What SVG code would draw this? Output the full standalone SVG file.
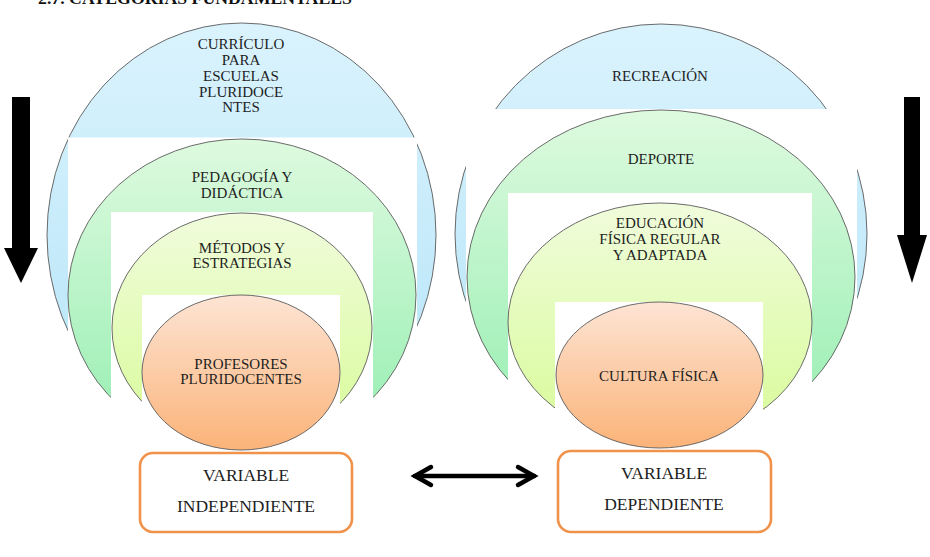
<svg xmlns="http://www.w3.org/2000/svg" width="930" height="557" viewBox="0 0 930 557">
<defs>
<linearGradient id="gBlue" x1="0" y1="0" x2="0" y2="1"><stop offset="0" stop-color="#daf3fd"/><stop offset="1" stop-color="#b4e4f8"/></linearGradient>
<linearGradient id="gGreen" x1="0" y1="0" x2="0" y2="1"><stop offset="0" stop-color="#defadf"/><stop offset="1" stop-color="#94eeb0"/></linearGradient>
<linearGradient id="gYellow" x1="0" y1="0" x2="0" y2="1"><stop offset="0" stop-color="#f0fcdc"/><stop offset="1" stop-color="#d8fb98"/></linearGradient>
<linearGradient id="gOrange" x1="0" y1="0" x2="0" y2="1"><stop offset="0" stop-color="#fde4d4"/><stop offset="1" stop-color="#fbb378"/></linearGradient>
<style>
.e{stroke:#5a5a5a;stroke-width:0.9}
.w{fill:#ffffff}
.t{font-family:"Liberation Serif","Times New Roman",serif;font-size:15px;fill:#1e1e1e;text-anchor:middle}
.tb{font-family:"Liberation Serif","Times New Roman",serif;font-size:17.5px;fill:#1e1e1e;text-anchor:middle}
.box{fill:#ffffff;stroke:#f0924a;stroke-width:2.6}
</style>
</defs>
<rect width="930" height="557" fill="#ffffff"/>
<text x="38" y="3.5" font-family="'Liberation Serif','Times New Roman',serif" font-weight="bold" font-size="16" fill="#111" textLength="314" lengthAdjust="spacingAndGlyphs">2.7. CATEGORÍAS FUNDAMENTALES</text>

<g id="left-curriculo">
<ellipse class="e" cx="241.5" cy="235" rx="194.5" ry="212" fill="url(#gBlue)"/>
<rect class="w" x="68" y="137.5" width="349" height="320"/>
<text class="t" x="241" y="49">CURRÍCULO</text>
<text class="t" x="241" y="64.5">PARA</text>
<text class="t" x="241" y="80.5">ESCUELAS</text>
<text class="t" x="241" y="96.5">PLURIDOCE</text>
<text class="t" x="241" y="112">NTES</text>
</g>
<g id="left-pedagogia">
<ellipse class="e" cx="242" cy="295" rx="174" ry="156" fill="url(#gGreen)"/>
<rect class="w" x="111" y="212" width="262" height="250"/>
<text class="t" x="242" y="182">PEDAGOGÍA Y</text>
<text class="t" x="242" y="198">DIDÁCTICA</text>
</g>
<g id="left-metodos">
<ellipse class="e" cx="242" cy="328" rx="130" ry="115" fill="url(#gYellow)"/>
<rect class="w" x="142" y="295" width="198" height="160"/>
<text class="t" x="242" y="253">MÉTODOS Y</text>
<text class="t" x="242" y="268">ESTRATEGIAS</text>
</g>
<g id="left-profesores">
<ellipse class="e" cx="241" cy="372.5" rx="99" ry="77.5" fill="url(#gOrange)"/>
<text class="t" x="241" y="369">PROFESORES</text>
<text class="t" x="241" y="384">PLURIDOCENTES</text>
</g>

<g id="right-recreacion">
<ellipse class="e" cx="661" cy="234" rx="206" ry="210" fill="url(#gBlue)"/>
<rect class="w" x="466" y="109" width="391" height="345"/>
<text class="t" x="660" y="81">RECREACIÓN</text>
</g>
<g id="right-deporte">
<ellipse class="e" cx="661" cy="277" rx="194" ry="167" fill="url(#gGreen)"/>
<rect class="w" x="508" y="193" width="304" height="260"/>
<text class="t" x="661" y="164">DEPORTE</text>
</g>
<g id="right-educacion">
<ellipse class="e" cx="660" cy="322" rx="152" ry="119" fill="url(#gYellow)"/>
<rect class="w" x="555" y="302" width="208" height="150"/>
<text class="t" x="660" y="228">EDUCACIÓN</text>
<text class="t" x="660" y="244">FÍSICA REGULAR</text>
<text class="t" x="660" y="260">Y ADAPTADA</text>
</g>
<g id="right-cultura">
<ellipse class="e" cx="659.5" cy="375" rx="103.5" ry="73" fill="url(#gOrange)"/>
<text class="t" x="659" y="381">CULTURA FÍSICA</text>
</g>

<g id="var-independiente">
<rect class="box" x="140" y="453" width="212" height="79" rx="13"/>
<text class="tb" x="246" y="481">VARIABLE</text>
<text class="tb" x="246" y="512">INDEPENDIENTE</text>
</g>
<g id="var-dependiente">
<rect class="box" x="558" y="451" width="213" height="81" rx="13"/>
<text class="tb" x="664" y="479">VARIABLE</text>
<text class="tb" x="664" y="510">DEPENDIENTE</text>
</g>

<g id="connectors">
<g id="double-arrow" fill="none" stroke="#000" stroke-width="4.5" stroke-linecap="round" stroke-linejoin="miter">
<line x1="415" y1="476" x2="534" y2="476"/>
<polyline points="431,467 415,476 431,485"/>
<polyline points="518,467 534,476 518,485"/>
</g>
<g id="arrow-left" fill="#000">
<rect x="12" y="97" width="18" height="152"/>
<polygon points="4,248 38,248 21,283"/>
</g>
<g id="arrow-right" fill="#000">
<rect x="904" y="97" width="16" height="140"/>
<polygon points="897,235 927,235 912,283"/>
</g>
</g>
</svg>
